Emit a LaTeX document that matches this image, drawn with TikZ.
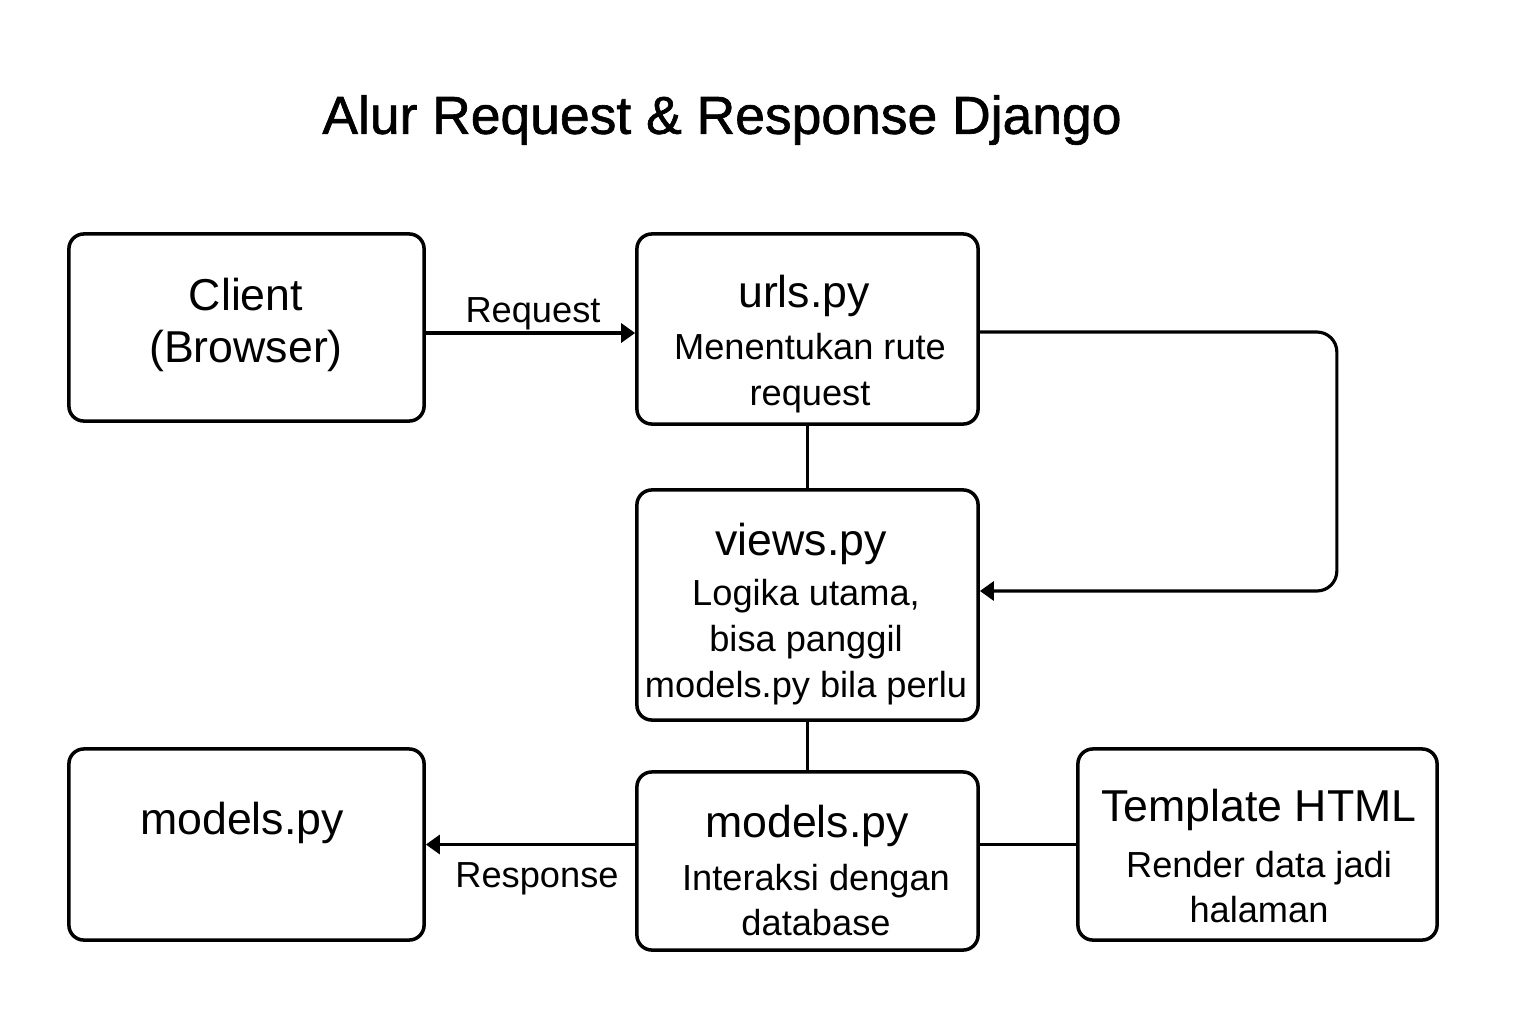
\documentclass[tikz,border=0pt]{standalone}
\usepackage{fontspec}
\setmainfont{Liberation Sans}
\newfontfamily\titlefont[FakeBold=1.2]{Liberation Sans}
\usetikzlibrary{arrows.meta,positioning}

\begin{document}
\begin{tikzpicture}[x=0.01cm,y=-0.01cm,
    box/.style={draw, line width=1pt, rounded corners=0.15cm, inner sep=0pt},
    head/.style={font=\fontsize{12.7}{15}\selectfont, inner sep=0pt},
    desc/.style={font=\fontsize{10.3}{13}\selectfont, align=center, inner sep=0pt},
    link/.style={line width=0.9pt},
    flow/.style={link, -{Triangle[length=0.14cm,width=0.19cm]}}]

    % Ukuran gambar (piksel: 1536 x 1024)
    \useasboundingbox (0,0) rectangle (1536,1024);

    % Judul
    \node[font=\titlefont\fontsize{15.2}{18}\selectfont] (judul) at (722,120) {Alur Request \& Response Django};

    % Kotak-kotak
    \node[box, minimum width=3.55cm, minimum height=1.87cm] (client) at (246.5,327.5) {};
    \node[box, minimum width=3.41cm, minimum height=1.90cm] (urls) at (807.5,329) {};
    \node[box, minimum width=3.41cm, minimum height=2.30cm] (views) at (807.5,605) {};
    \node[box, minimum width=3.41cm, minimum height=1.78cm] (model) at (807.5,861) {};
    \node[box, minimum width=3.55cm, minimum height=1.91cm] (modelkiri) at (246.5,844.5) {};
    \node[box, minimum width=3.59cm, minimum height=1.91cm] (template) at (1257.5,844.5) {};

    % Teks di dalam kotak
    \node[head, align=center] (clientteks) at (246,325) {Client\\(Browser)};
    \node[head] (urlsjudul) at (804,296) {urls.py};
    \node[desc] (urlsket) at (810,373) {Menentukan rute\\request};
    \node[head] (viewsjudul) at (801,544) {views.py};
    \node[desc] (viewsket) at (806,642) {Logika utama,\\bisa panggil\\models.py bila perlu};
    \node[head] (modeljudul) at (807,826) {models.py};
    \node[desc] (modelket) at (816,900) {Interaksi dengan\\database};
    \node[head] (templatejudul) at (1259,810) {Template HTML};
    \node[desc] (templateket) at (1259,887) {Render data jadi\\halaman};
    \node[head] (modelkiriteks) at (242,823) {models.py};

    % Penghubung
    \draw[flow] ([yshift=-0.055cm]client.east) -- ([yshift=-0.055cm]client.east -| urls.west);
    \node[desc] (request) at (533,314) {Request};
    \draw[link] (urls.south) -- (views.north);
    \draw[flow, rounded corners=0.2cm] ([yshift=-0.03cm]urls.east) -- ++(357,0) |- ([yshift=0.14cm]views.east);
    \draw[link] (views.south) -- (model.north);
    \draw[flow] (model.west |- modelkiri.east) -- (modelkiri.east);
    \node[desc] (response) at (537,879) {Response};
    \draw[link] (template.west) -- (template.west -| model.east);
\end{tikzpicture}
\end{document}
